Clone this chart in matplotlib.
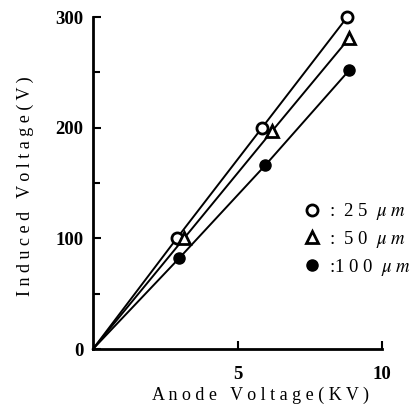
import matplotlib
matplotlib.use("Agg")
import matplotlib.pyplot as plt
from matplotlib.lines import Line2D

plt.rcParams['font.family'] = ['Liberation Serif', 'DejaVu Serif']
plt.rcParams['mathtext.fontset'] = 'stix'

# Data (anode voltage kV, induced voltage V)
x_25 = [0, 2.9, 5.85, 8.8]
y_25 = [0, 100, 200, 300]
x_50 = [0, 3.15, 6.2, 8.87]
y_50 = [0, 100, 197, 281]
x_100 = [0, 2.98, 5.96, 8.87]
y_100 = [0, 82, 166, 252]

labels = [":  2 5  $\\mu\\ m$", ":  5 0  $\\mu\\ m$", ":1 0 0  $\\mu\\ m$"]
xticks = [5, 10]
yticks = [0, 100, 200, 300]
yminor = [50, 150, 250]

fig = plt.figure(figsize=(4.15, 4.05), dpi=100)
ax = fig.add_axes([93/415, 1-349/405, (382-93)/415, (349-17)/405])

lw = 1.4
ax.plot(x_25, y_25, color='black', lw=lw, clip_on=False)
ax.plot(x_50, y_50, color='black', lw=lw, clip_on=False)
ax.plot(x_100, y_100, color='black', lw=lw, clip_on=False)
ax.plot(x_25[1:], y_25[1:], 'o', ms=8, mfc='white', mec='black', mew=2, ls='none', clip_on=False)
ax.plot(x_50[1:], y_50[1:], '^', ms=8, mfc='white', mec='black', mew=2, ls='none', clip_on=False)
ax.plot(x_100[1:], y_100[1:], 'o', ms=8, mfc='black', mec='black', ls='none', clip_on=False)

ax.set_xlim(0, 10)
ax.set_ylim(0, 300)
for s in ['top', 'right']:
    ax.spines[s].set_visible(False)
for s in ['left', 'bottom']:
    ax.spines[s].set_linewidth(2)

ax.set_xticks(xticks)
ax.set_xticklabels([str(t) for t in xticks], fontsize=13.5, fontweight='bold')
ax.set_yticks(yticks)
ax.set_yticklabels([str(t) for t in yticks], fontsize=13.5, fontweight='bold')
ax.set_yticks(yminor, minor=True)
ax.tick_params(axis='both', which='major', direction='in', length=6, width=1.5)
ax.tick_params(axis='y', which='major', pad=7)
ax.tick_params(axis='y', which='minor', direction='in', length=5, width=1.5)
ax.tick_params(axis='x', pad=12)

ax.set_xlabel("A n o d e   V o l t a g e ( K V )", fontsize=13, labelpad=8)
ax.xaxis.set_label_coords(0.58, -0.115)
ax.set_ylabel("I n d u c e d   V o l t a g e ( V )", fontsize=13, labelpad=12)
ax.yaxis.set_label_coords(-0.205, 0.49)

handles = [
    Line2D([], [], marker='o', ms=8, mfc='white', mec='black', mew=2, ls='none'),
    Line2D([], [], marker='^', ms=8, mfc='white', mec='black', mew=2, ls='none'),
    Line2D([], [], marker='o', ms=8, mfc='black', mec='black', ls='none'),
]
ax.legend(handles, labels, loc='center left', bbox_to_anchor=(0.70, 0.33),
          frameon=False, fontsize=13.5, handlelength=0.8, handletextpad=0.5,
          labelspacing=0.35, borderpad=0)

fig.savefig("out.png", dpi=100)
